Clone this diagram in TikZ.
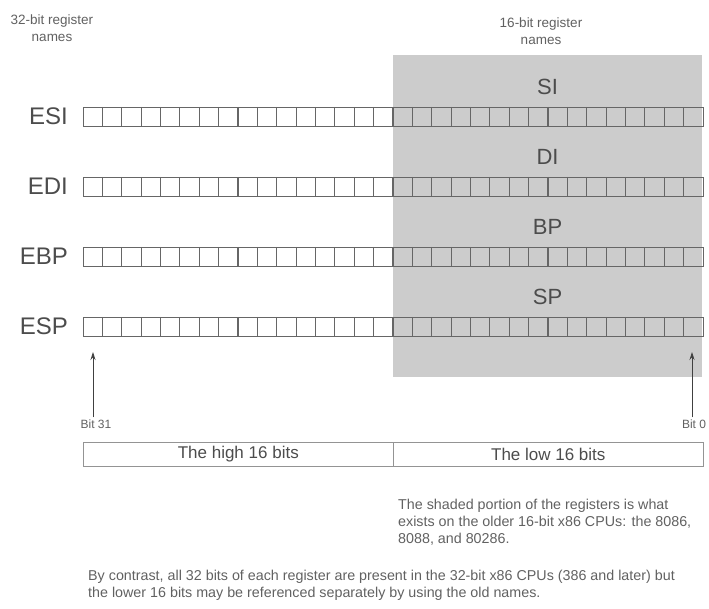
\documentclass[tikz,border=0pt]{standalone}
\usepackage{fontspec}
\setmainfont{Liberation Sans}
\usetikzlibrary{arrows.meta}
\definecolor{shadefill}{gray}{0.80}
\definecolor{cellline}{gray}{0.40}
\definecolor{smalltxt}{gray}{0.38}
\definecolor{bigtxt}{gray}{0.30}
\begin{document}
\begin{tikzpicture}[x=1pt,y=-1pt,
  regrow/.style={draw=cellline, line width=1.2pt, minimum width=620pt, minimum height=19pt, inner sep=0pt, anchor=north west},
  divider/.style={draw=cellline, line width=1.1pt},
  reglabel/.style={font=\fontsize{24}{27}\selectfont, text=bigtxt, anchor=east, inner sep=0pt},
  sublabel/.style={font=\fontsize{22}{25}\selectfont, text=bigtxt, inner sep=0pt},
  header/.style={font=\fontsize{13.5}{17}\selectfont, text=smalltxt, align=center, inner sep=0pt},
  bitlabel/.style={font=\fontsize{12}{14}\selectfont, text=smalltxt, inner sep=2pt},
  halfbox/.style={draw=cellline!70, line width=0.6pt, minimum width=310pt, minimum height=24pt, inner sep=0pt, anchor=north west, font=\fontsize{17}{20}\selectfont, text=bigtxt},
  note/.style={text=smalltxt, align=left, inner sep=0pt, anchor=north west, font=\fontsize{14.3}{16.8}\selectfont},
  bitarrow/.style={draw=black!75, line width=0.8pt, -{Stealth[length=8pt,width=5pt]}}
]
\useasboundingbox (0,0) rectangle (709,609);

% shaded 16-bit area
\node[fill=shadefill, minimum width=309pt, minimum height=322pt, inner sep=0pt, anchor=north west] (shade) at (393,55) {};

% headers
\node[header] (h32) at (52,28) {32-bit register\\names};
\node[header] (h16) at (541,31) {16-bit register\\names};

% register rows
\foreach \nm/\sub/\ty in {ESI/SI/107, EDI/DI/177, EBP/BP/247, ESP/SP/317}{
  \node[regrow] (row\nm) at (83,\ty) {};
  \foreach \k in {1,...,31}{
    \draw[divider] ({83+\k*19.375},\ty) -- ({83+\k*19.375},{\ty+19});
  }
  \node[reglabel] (lab\nm) at (68,{\ty+9.5}) {\nm};
  \node[sublabel] (sub\sub) at (547.5,{\ty-20}) {\sub};
}

% bit markers
\coordinate (tip31) at (93,352);
\coordinate (tip0) at (692,352);
\node[bitlabel] (bit31) at (96,424) {Bit 31};
\node[bitlabel] (bit0) at (694,424) {Bit 0};
\draw[bitarrow] (tip31 |- bit31.north) -- (tip31);
\draw[bitarrow] (tip0 |- bit0.north) -- (tip0);

% halves
\node[halfbox] (high) at (83,442) {The high 16 bits};
\node[halfbox] (low) at (393,442) {The low 16 bits};

% notes
\node[note] (note1) at (398,499) {The shaded portion of the registers is what\\exists on the older 16-bit x86 CPUs: the 8086,\\8088, and 80286.};
\node[note] (note2) at (88,570) {By contrast, all 32 bits of each register are present in the 32-bit x86 CPUs (386 and later) but\\the lower 16 bits may be referenced separately by using the old names.};
\end{tikzpicture}
\end{document}
